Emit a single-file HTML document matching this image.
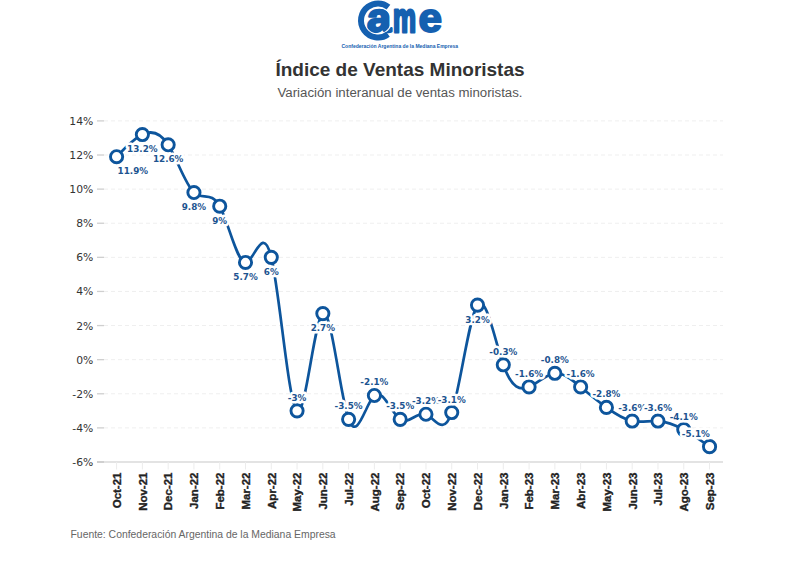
<!DOCTYPE html><html><head><meta charset="utf-8"><style>html,body{margin:0;padding:0;background:#fff;}svg{display:block}</style></head><body>
<svg width="800" height="561" viewBox="0 0 800 561">
<rect width="800" height="561" fill="#fff"/>
<g>
<text y="32" font-family="Liberation Sans, Arial, sans-serif" font-weight="bold" font-size="41" fill="#1560b0" stroke="#1560b0" stroke-width="2" stroke-linejoin="round" lengthAdjust="spacingAndGlyphs"><tspan x="367" textLength="24" lengthAdjust="spacingAndGlyphs" stroke-width="2.4">a</tspan><tspan x="393" textLength="23" lengthAdjust="spacingAndGlyphs" stroke-width="3">m</tspan><tspan x="418.5" textLength="23.5" lengthAdjust="spacingAndGlyphs">e</tspan></text>
<circle cx="378" cy="20.5" r="13.6" fill="none" stroke="#fff" stroke-width="1.3"/>
<circle cx="378" cy="20.5" r="17" fill="none" stroke="#1560b0" stroke-width="6" stroke-dasharray="74.8 32" transform="rotate(54 378 20.5)"/>
<text x="341.5" y="48" font-family="Liberation Sans, Arial, sans-serif" font-weight="bold" font-size="5.2" fill="#1560b0" textLength="116.5" lengthAdjust="spacingAndGlyphs">Confederación Argentina de la Mediana Empresa</text>
</g>
<text x="400" y="75.8" text-anchor="middle" font-family="Liberation Sans, Arial, sans-serif" font-weight="bold" font-size="19" fill="#333">Índice de Ventas Minoristas</text>
<text x="400" y="97" text-anchor="middle" font-family="Liberation Sans, Arial, sans-serif" font-size="13.25" fill="#555">Variación interanual de ventas minoristas.</text>
<line x1="104" y1="120.90" x2="723" y2="120.90" stroke="#efefef" stroke-width="1" stroke-dasharray="4 3"/>
<line x1="97" y1="120.90" x2="104" y2="120.90" stroke="#cfcfcf" stroke-width="1.3"/>
<line x1="104" y1="155.01" x2="723" y2="155.01" stroke="#efefef" stroke-width="1" stroke-dasharray="4 3"/>
<line x1="97" y1="155.01" x2="104" y2="155.01" stroke="#cfcfcf" stroke-width="1.3"/>
<line x1="104" y1="189.12" x2="723" y2="189.12" stroke="#efefef" stroke-width="1" stroke-dasharray="4 3"/>
<line x1="97" y1="189.12" x2="104" y2="189.12" stroke="#cfcfcf" stroke-width="1.3"/>
<line x1="104" y1="223.23" x2="723" y2="223.23" stroke="#efefef" stroke-width="1" stroke-dasharray="4 3"/>
<line x1="97" y1="223.23" x2="104" y2="223.23" stroke="#cfcfcf" stroke-width="1.3"/>
<line x1="104" y1="257.34" x2="723" y2="257.34" stroke="#efefef" stroke-width="1" stroke-dasharray="4 3"/>
<line x1="97" y1="257.34" x2="104" y2="257.34" stroke="#cfcfcf" stroke-width="1.3"/>
<line x1="104" y1="291.45" x2="723" y2="291.45" stroke="#efefef" stroke-width="1" stroke-dasharray="4 3"/>
<line x1="97" y1="291.45" x2="104" y2="291.45" stroke="#cfcfcf" stroke-width="1.3"/>
<line x1="104" y1="325.56" x2="723" y2="325.56" stroke="#efefef" stroke-width="1" stroke-dasharray="4 3"/>
<line x1="97" y1="325.56" x2="104" y2="325.56" stroke="#cfcfcf" stroke-width="1.3"/>
<line x1="104" y1="359.67" x2="723" y2="359.67" stroke="#efefef" stroke-width="1" stroke-dasharray="4 3"/>
<line x1="97" y1="359.67" x2="104" y2="359.67" stroke="#cfcfcf" stroke-width="1.3"/>
<line x1="104" y1="393.78" x2="723" y2="393.78" stroke="#efefef" stroke-width="1" stroke-dasharray="4 3"/>
<line x1="97" y1="393.78" x2="104" y2="393.78" stroke="#cfcfcf" stroke-width="1.3"/>
<line x1="104" y1="427.89" x2="723" y2="427.89" stroke="#efefef" stroke-width="1" stroke-dasharray="4 3"/>
<line x1="97" y1="427.89" x2="104" y2="427.89" stroke="#cfcfcf" stroke-width="1.3"/>
<text x="93.3" y="124.90" text-anchor="end" font-family="DejaVu Sans, Verdana, sans-serif" font-size="10.8" fill="#333">14%</text>
<text x="93.3" y="159.01" text-anchor="end" font-family="DejaVu Sans, Verdana, sans-serif" font-size="10.8" fill="#333">12%</text>
<text x="93.3" y="193.12" text-anchor="end" font-family="DejaVu Sans, Verdana, sans-serif" font-size="10.8" fill="#333">10%</text>
<text x="93.3" y="227.23" text-anchor="end" font-family="DejaVu Sans, Verdana, sans-serif" font-size="10.8" fill="#333">8%</text>
<text x="93.3" y="261.34" text-anchor="end" font-family="DejaVu Sans, Verdana, sans-serif" font-size="10.8" fill="#333">6%</text>
<text x="93.3" y="295.45" text-anchor="end" font-family="DejaVu Sans, Verdana, sans-serif" font-size="10.8" fill="#333">4%</text>
<text x="93.3" y="329.56" text-anchor="end" font-family="DejaVu Sans, Verdana, sans-serif" font-size="10.8" fill="#333">2%</text>
<text x="93.3" y="363.67" text-anchor="end" font-family="DejaVu Sans, Verdana, sans-serif" font-size="10.8" fill="#333">0%</text>
<text x="93.3" y="397.78" text-anchor="end" font-family="DejaVu Sans, Verdana, sans-serif" font-size="10.8" fill="#333">-2%</text>
<text x="93.3" y="431.89" text-anchor="end" font-family="DejaVu Sans, Verdana, sans-serif" font-size="10.8" fill="#333">-4%</text>
<text x="93.3" y="466.00" text-anchor="end" font-family="DejaVu Sans, Verdana, sans-serif" font-size="10.8" fill="#333">-6%</text>
<line x1="104" y1="462.00" x2="723" y2="462.00" stroke="#e3e3e3" stroke-width="2"/>
<line x1="97" y1="462.00" x2="104" y2="462.00" stroke="#cfcfcf" stroke-width="2"/>
<line x1="116.60" y1="462.00" x2="116.60" y2="469.50" stroke="#ececec" stroke-width="1"/>
<text transform="translate(120.90,472.50) rotate(-90)" text-anchor="end" font-family="Liberation Sans, Arial, sans-serif" font-weight="bold" font-size="11.5" fill="#222" stroke="#222" stroke-width="0.35">Oct-21</text>
<line x1="142.38" y1="462.00" x2="142.38" y2="469.50" stroke="#ececec" stroke-width="1"/>
<text transform="translate(146.68,472.50) rotate(-90)" text-anchor="end" font-family="Liberation Sans, Arial, sans-serif" font-weight="bold" font-size="11.5" fill="#222" stroke="#222" stroke-width="0.35">Nov-21</text>
<line x1="168.16" y1="462.00" x2="168.16" y2="469.50" stroke="#ececec" stroke-width="1"/>
<text transform="translate(172.46,472.50) rotate(-90)" text-anchor="end" font-family="Liberation Sans, Arial, sans-serif" font-weight="bold" font-size="11.5" fill="#222" stroke="#222" stroke-width="0.35">Dec-21</text>
<line x1="193.94" y1="462.00" x2="193.94" y2="469.50" stroke="#ececec" stroke-width="1"/>
<text transform="translate(198.24,472.50) rotate(-90)" text-anchor="end" font-family="Liberation Sans, Arial, sans-serif" font-weight="bold" font-size="11.5" fill="#222" stroke="#222" stroke-width="0.35">Jan-22</text>
<line x1="219.72" y1="462.00" x2="219.72" y2="469.50" stroke="#ececec" stroke-width="1"/>
<text transform="translate(224.02,472.50) rotate(-90)" text-anchor="end" font-family="Liberation Sans, Arial, sans-serif" font-weight="bold" font-size="11.5" fill="#222" stroke="#222" stroke-width="0.35">Feb-22</text>
<line x1="245.50" y1="462.00" x2="245.50" y2="469.50" stroke="#ececec" stroke-width="1"/>
<text transform="translate(249.80,472.50) rotate(-90)" text-anchor="end" font-family="Liberation Sans, Arial, sans-serif" font-weight="bold" font-size="11.5" fill="#222" stroke="#222" stroke-width="0.35">Mar-22</text>
<line x1="271.28" y1="462.00" x2="271.28" y2="469.50" stroke="#ececec" stroke-width="1"/>
<text transform="translate(275.58,472.50) rotate(-90)" text-anchor="end" font-family="Liberation Sans, Arial, sans-serif" font-weight="bold" font-size="11.5" fill="#222" stroke="#222" stroke-width="0.35">Apr-22</text>
<line x1="297.06" y1="462.00" x2="297.06" y2="469.50" stroke="#ececec" stroke-width="1"/>
<text transform="translate(301.36,472.50) rotate(-90)" text-anchor="end" font-family="Liberation Sans, Arial, sans-serif" font-weight="bold" font-size="11.5" fill="#222" stroke="#222" stroke-width="0.35">May-22</text>
<line x1="322.84" y1="462.00" x2="322.84" y2="469.50" stroke="#ececec" stroke-width="1"/>
<text transform="translate(327.14,472.50) rotate(-90)" text-anchor="end" font-family="Liberation Sans, Arial, sans-serif" font-weight="bold" font-size="11.5" fill="#222" stroke="#222" stroke-width="0.35">Jun-22</text>
<line x1="348.62" y1="462.00" x2="348.62" y2="469.50" stroke="#ececec" stroke-width="1"/>
<text transform="translate(352.92,472.50) rotate(-90)" text-anchor="end" font-family="Liberation Sans, Arial, sans-serif" font-weight="bold" font-size="11.5" fill="#222" stroke="#222" stroke-width="0.35">Jul-22</text>
<line x1="374.40" y1="462.00" x2="374.40" y2="469.50" stroke="#ececec" stroke-width="1"/>
<text transform="translate(378.70,472.50) rotate(-90)" text-anchor="end" font-family="Liberation Sans, Arial, sans-serif" font-weight="bold" font-size="11.5" fill="#222" stroke="#222" stroke-width="0.35">Aug-22</text>
<line x1="400.18" y1="462.00" x2="400.18" y2="469.50" stroke="#ececec" stroke-width="1"/>
<text transform="translate(404.48,472.50) rotate(-90)" text-anchor="end" font-family="Liberation Sans, Arial, sans-serif" font-weight="bold" font-size="11.5" fill="#222" stroke="#222" stroke-width="0.35">Sep-22</text>
<line x1="425.96" y1="462.00" x2="425.96" y2="469.50" stroke="#ececec" stroke-width="1"/>
<text transform="translate(430.26,472.50) rotate(-90)" text-anchor="end" font-family="Liberation Sans, Arial, sans-serif" font-weight="bold" font-size="11.5" fill="#222" stroke="#222" stroke-width="0.35">Oct-22</text>
<line x1="451.74" y1="462.00" x2="451.74" y2="469.50" stroke="#ececec" stroke-width="1"/>
<text transform="translate(456.04,472.50) rotate(-90)" text-anchor="end" font-family="Liberation Sans, Arial, sans-serif" font-weight="bold" font-size="11.5" fill="#222" stroke="#222" stroke-width="0.35">Nov-22</text>
<line x1="477.52" y1="462.00" x2="477.52" y2="469.50" stroke="#ececec" stroke-width="1"/>
<text transform="translate(481.82,472.50) rotate(-90)" text-anchor="end" font-family="Liberation Sans, Arial, sans-serif" font-weight="bold" font-size="11.5" fill="#222" stroke="#222" stroke-width="0.35">Dec-22</text>
<line x1="503.30" y1="462.00" x2="503.30" y2="469.50" stroke="#ececec" stroke-width="1"/>
<text transform="translate(507.60,472.50) rotate(-90)" text-anchor="end" font-family="Liberation Sans, Arial, sans-serif" font-weight="bold" font-size="11.5" fill="#222" stroke="#222" stroke-width="0.35">Jan-23</text>
<line x1="529.08" y1="462.00" x2="529.08" y2="469.50" stroke="#ececec" stroke-width="1"/>
<text transform="translate(533.38,472.50) rotate(-90)" text-anchor="end" font-family="Liberation Sans, Arial, sans-serif" font-weight="bold" font-size="11.5" fill="#222" stroke="#222" stroke-width="0.35">Feb-23</text>
<line x1="554.86" y1="462.00" x2="554.86" y2="469.50" stroke="#ececec" stroke-width="1"/>
<text transform="translate(559.16,472.50) rotate(-90)" text-anchor="end" font-family="Liberation Sans, Arial, sans-serif" font-weight="bold" font-size="11.5" fill="#222" stroke="#222" stroke-width="0.35">Mar-23</text>
<line x1="580.64" y1="462.00" x2="580.64" y2="469.50" stroke="#ececec" stroke-width="1"/>
<text transform="translate(584.94,472.50) rotate(-90)" text-anchor="end" font-family="Liberation Sans, Arial, sans-serif" font-weight="bold" font-size="11.5" fill="#222" stroke="#222" stroke-width="0.35">Abr-23</text>
<line x1="606.42" y1="462.00" x2="606.42" y2="469.50" stroke="#ececec" stroke-width="1"/>
<text transform="translate(610.72,472.50) rotate(-90)" text-anchor="end" font-family="Liberation Sans, Arial, sans-serif" font-weight="bold" font-size="11.5" fill="#222" stroke="#222" stroke-width="0.35">May-23</text>
<line x1="632.20" y1="462.00" x2="632.20" y2="469.50" stroke="#ececec" stroke-width="1"/>
<text transform="translate(636.50,472.50) rotate(-90)" text-anchor="end" font-family="Liberation Sans, Arial, sans-serif" font-weight="bold" font-size="11.5" fill="#222" stroke="#222" stroke-width="0.35">Jun-23</text>
<line x1="657.98" y1="462.00" x2="657.98" y2="469.50" stroke="#ececec" stroke-width="1"/>
<text transform="translate(662.28,472.50) rotate(-90)" text-anchor="end" font-family="Liberation Sans, Arial, sans-serif" font-weight="bold" font-size="11.5" fill="#222" stroke="#222" stroke-width="0.35">Jul-23</text>
<line x1="683.76" y1="462.00" x2="683.76" y2="469.50" stroke="#ececec" stroke-width="1"/>
<text transform="translate(688.06,472.50) rotate(-90)" text-anchor="end" font-family="Liberation Sans, Arial, sans-serif" font-weight="bold" font-size="11.5" fill="#222" stroke="#222" stroke-width="0.35">Ago-23</text>
<line x1="709.54" y1="462.00" x2="709.54" y2="469.50" stroke="#ececec" stroke-width="1"/>
<text transform="translate(713.84,472.50) rotate(-90)" text-anchor="end" font-family="Liberation Sans, Arial, sans-serif" font-weight="bold" font-size="11.5" fill="#222" stroke="#222" stroke-width="0.35">Sep-23</text>
<path d="M116.60,156.72C125.19,147.68,133.79,138.64,142.38,134.54C150.97,130.45,159.57,131.29,168.16,144.78C176.75,158.27,185.35,184.41,193.94,192.53C202.53,200.65,211.13,190.74,219.72,206.18C228.31,221.61,236.91,262.38,245.50,262.46C254.09,262.53,262.69,221.91,271.28,257.34C279.87,292.77,288.47,404.27,297.06,410.84C305.65,417.40,314.25,319.05,322.84,313.62C331.43,308.20,340.03,395.70,348.62,419.36C357.21,443.02,365.81,402.84,374.40,395.49C382.99,388.14,391.59,413.62,400.18,419.36C408.77,425.10,417.37,411.10,425.96,414.25C434.55,417.39,443.15,437.68,451.74,412.54C460.33,387.40,468.93,316.83,477.52,305.09C486.11,293.36,494.71,340.45,503.30,364.79C511.89,389.12,520.49,390.70,529.08,386.96C537.67,383.22,546.27,374.17,554.86,373.31C563.45,372.46,572.05,379.79,580.64,386.96C589.23,394.12,597.83,401.11,606.42,407.42C615.01,413.74,623.61,419.37,632.20,421.07C640.79,422.77,649.39,420.54,657.98,421.07C666.57,421.59,675.17,424.87,683.76,429.60C692.35,434.32,700.95,440.48,709.54,446.65" fill="none" stroke="#0d559c" stroke-width="2.7" stroke-linejoin="round" stroke-linecap="round"/>
<circle cx="116.60" cy="156.72" r="6.1" fill="#fff" stroke="#0d559c" stroke-width="2.9"/>
<circle cx="142.38" cy="134.54" r="6.1" fill="#fff" stroke="#0d559c" stroke-width="2.9"/>
<circle cx="168.16" cy="144.78" r="6.1" fill="#fff" stroke="#0d559c" stroke-width="2.9"/>
<circle cx="193.94" cy="192.53" r="6.1" fill="#fff" stroke="#0d559c" stroke-width="2.9"/>
<circle cx="219.72" cy="206.18" r="6.1" fill="#fff" stroke="#0d559c" stroke-width="2.9"/>
<circle cx="245.50" cy="262.46" r="6.1" fill="#fff" stroke="#0d559c" stroke-width="2.9"/>
<circle cx="271.28" cy="257.34" r="6.1" fill="#fff" stroke="#0d559c" stroke-width="2.9"/>
<circle cx="297.06" cy="410.84" r="6.1" fill="#fff" stroke="#0d559c" stroke-width="2.9"/>
<circle cx="322.84" cy="313.62" r="6.1" fill="#fff" stroke="#0d559c" stroke-width="2.9"/>
<circle cx="348.62" cy="419.36" r="6.1" fill="#fff" stroke="#0d559c" stroke-width="2.9"/>
<circle cx="374.40" cy="395.49" r="6.1" fill="#fff" stroke="#0d559c" stroke-width="2.9"/>
<circle cx="400.18" cy="419.36" r="6.1" fill="#fff" stroke="#0d559c" stroke-width="2.9"/>
<circle cx="425.96" cy="414.25" r="6.1" fill="#fff" stroke="#0d559c" stroke-width="2.9"/>
<circle cx="451.74" cy="412.54" r="6.1" fill="#fff" stroke="#0d559c" stroke-width="2.9"/>
<circle cx="477.52" cy="305.09" r="6.1" fill="#fff" stroke="#0d559c" stroke-width="2.9"/>
<circle cx="503.30" cy="364.79" r="6.1" fill="#fff" stroke="#0d559c" stroke-width="2.9"/>
<circle cx="529.08" cy="386.96" r="6.1" fill="#fff" stroke="#0d559c" stroke-width="2.9"/>
<circle cx="554.86" cy="373.31" r="6.1" fill="#fff" stroke="#0d559c" stroke-width="2.9"/>
<circle cx="580.64" cy="386.96" r="6.1" fill="#fff" stroke="#0d559c" stroke-width="2.9"/>
<circle cx="606.42" cy="407.42" r="6.1" fill="#fff" stroke="#0d559c" stroke-width="2.9"/>
<circle cx="632.20" cy="421.07" r="6.1" fill="#fff" stroke="#0d559c" stroke-width="2.9"/>
<circle cx="657.98" cy="421.07" r="6.1" fill="#fff" stroke="#0d559c" stroke-width="2.9"/>
<circle cx="683.76" cy="429.60" r="6.1" fill="#fff" stroke="#0d559c" stroke-width="2.9"/>
<circle cx="709.54" cy="446.65" r="6.1" fill="#fff" stroke="#0d559c" stroke-width="2.9"/>
<text x="117.60" y="174.22" text-anchor="start" font-family="DejaVu Sans, Verdana, sans-serif" font-weight="bold" font-size="8.8" fill="#1d5490" stroke="#fff" stroke-width="5" stroke-linejoin="round" paint-order="stroke">11.9%</text>
<text x="142.38" y="152.04" text-anchor="middle" font-family="DejaVu Sans, Verdana, sans-serif" font-weight="bold" font-size="8.8" fill="#1d5490" stroke="#fff" stroke-width="5" stroke-linejoin="round" paint-order="stroke">13.2%</text>
<text x="168.16" y="162.28" text-anchor="middle" font-family="DejaVu Sans, Verdana, sans-serif" font-weight="bold" font-size="8.8" fill="#1d5490" stroke="#fff" stroke-width="5" stroke-linejoin="round" paint-order="stroke">12.6%</text>
<text x="193.94" y="210.03" text-anchor="middle" font-family="DejaVu Sans, Verdana, sans-serif" font-weight="bold" font-size="8.8" fill="#1d5490" stroke="#fff" stroke-width="5" stroke-linejoin="round" paint-order="stroke">9.8%</text>
<text x="219.72" y="223.68" text-anchor="middle" font-family="DejaVu Sans, Verdana, sans-serif" font-weight="bold" font-size="8.8" fill="#1d5490" stroke="#fff" stroke-width="5" stroke-linejoin="round" paint-order="stroke">9%</text>
<text x="245.50" y="279.96" text-anchor="middle" font-family="DejaVu Sans, Verdana, sans-serif" font-weight="bold" font-size="8.8" fill="#1d5490" stroke="#fff" stroke-width="5" stroke-linejoin="round" paint-order="stroke">5.7%</text>
<text x="271.28" y="274.84" text-anchor="middle" font-family="DejaVu Sans, Verdana, sans-serif" font-weight="bold" font-size="8.8" fill="#1d5490" stroke="#fff" stroke-width="5" stroke-linejoin="round" paint-order="stroke">6%</text>
<text x="297.06" y="400.84" text-anchor="middle" font-family="DejaVu Sans, Verdana, sans-serif" font-weight="bold" font-size="8.8" fill="#1d5490" stroke="#fff" stroke-width="5" stroke-linejoin="round" paint-order="stroke">-3%</text>
<text x="322.84" y="331.12" text-anchor="middle" font-family="DejaVu Sans, Verdana, sans-serif" font-weight="bold" font-size="8.8" fill="#1d5490" stroke="#fff" stroke-width="5" stroke-linejoin="round" paint-order="stroke">2.7%</text>
<text x="348.62" y="409.36" text-anchor="middle" font-family="DejaVu Sans, Verdana, sans-serif" font-weight="bold" font-size="8.8" fill="#1d5490" stroke="#fff" stroke-width="5" stroke-linejoin="round" paint-order="stroke">-3.5%</text>
<text x="374.40" y="385.49" text-anchor="middle" font-family="DejaVu Sans, Verdana, sans-serif" font-weight="bold" font-size="8.8" fill="#1d5490" stroke="#fff" stroke-width="5" stroke-linejoin="round" paint-order="stroke">-2.1%</text>
<text x="400.18" y="409.36" text-anchor="middle" font-family="DejaVu Sans, Verdana, sans-serif" font-weight="bold" font-size="8.8" fill="#1d5490" stroke="#fff" stroke-width="5" stroke-linejoin="round" paint-order="stroke">-3.5%</text>
<text x="425.96" y="404.25" text-anchor="middle" font-family="DejaVu Sans, Verdana, sans-serif" font-weight="bold" font-size="8.8" fill="#1d5490" stroke="#fff" stroke-width="5" stroke-linejoin="round" paint-order="stroke">-3.2%</text>
<text x="451.74" y="402.54" text-anchor="middle" font-family="DejaVu Sans, Verdana, sans-serif" font-weight="bold" font-size="8.8" fill="#1d5490" stroke="#fff" stroke-width="5" stroke-linejoin="round" paint-order="stroke">-3.1%</text>
<text x="477.52" y="322.59" text-anchor="middle" font-family="DejaVu Sans, Verdana, sans-serif" font-weight="bold" font-size="8.8" fill="#1d5490" stroke="#fff" stroke-width="5" stroke-linejoin="round" paint-order="stroke">3.2%</text>
<text x="503.30" y="354.79" text-anchor="middle" font-family="DejaVu Sans, Verdana, sans-serif" font-weight="bold" font-size="8.8" fill="#1d5490" stroke="#fff" stroke-width="5" stroke-linejoin="round" paint-order="stroke">-0.3%</text>
<text x="529.08" y="376.96" text-anchor="middle" font-family="DejaVu Sans, Verdana, sans-serif" font-weight="bold" font-size="8.8" fill="#1d5490" stroke="#fff" stroke-width="5" stroke-linejoin="round" paint-order="stroke">-1.6%</text>
<text x="554.86" y="363.31" text-anchor="middle" font-family="DejaVu Sans, Verdana, sans-serif" font-weight="bold" font-size="8.8" fill="#1d5490" stroke="#fff" stroke-width="5" stroke-linejoin="round" paint-order="stroke">-0.8%</text>
<text x="580.64" y="376.96" text-anchor="middle" font-family="DejaVu Sans, Verdana, sans-serif" font-weight="bold" font-size="8.8" fill="#1d5490" stroke="#fff" stroke-width="5" stroke-linejoin="round" paint-order="stroke">-1.6%</text>
<text x="606.42" y="397.42" text-anchor="middle" font-family="DejaVu Sans, Verdana, sans-serif" font-weight="bold" font-size="8.8" fill="#1d5490" stroke="#fff" stroke-width="5" stroke-linejoin="round" paint-order="stroke">-2.8%</text>
<text x="632.20" y="411.07" text-anchor="middle" font-family="DejaVu Sans, Verdana, sans-serif" font-weight="bold" font-size="8.8" fill="#1d5490" stroke="#fff" stroke-width="5" stroke-linejoin="round" paint-order="stroke">-3.6%</text>
<text x="657.98" y="411.07" text-anchor="middle" font-family="DejaVu Sans, Verdana, sans-serif" font-weight="bold" font-size="8.8" fill="#1d5490" stroke="#fff" stroke-width="5" stroke-linejoin="round" paint-order="stroke">-3.6%</text>
<text x="683.76" y="419.60" text-anchor="middle" font-family="DejaVu Sans, Verdana, sans-serif" font-weight="bold" font-size="8.8" fill="#1d5490" stroke="#fff" stroke-width="5" stroke-linejoin="round" paint-order="stroke">-4.1%</text>
<text x="709.84" y="436.65" text-anchor="end" font-family="DejaVu Sans, Verdana, sans-serif" font-weight="bold" font-size="8.8" fill="#1d5490" stroke="#fff" stroke-width="5" stroke-linejoin="round" paint-order="stroke">-5.1%</text>
<text x="70.5" y="538" font-family="Liberation Sans, Arial, sans-serif" font-size="10.4" fill="#666">Fuente: Confederación Argentina de la Mediana Empresa</text>
</svg></body></html>
